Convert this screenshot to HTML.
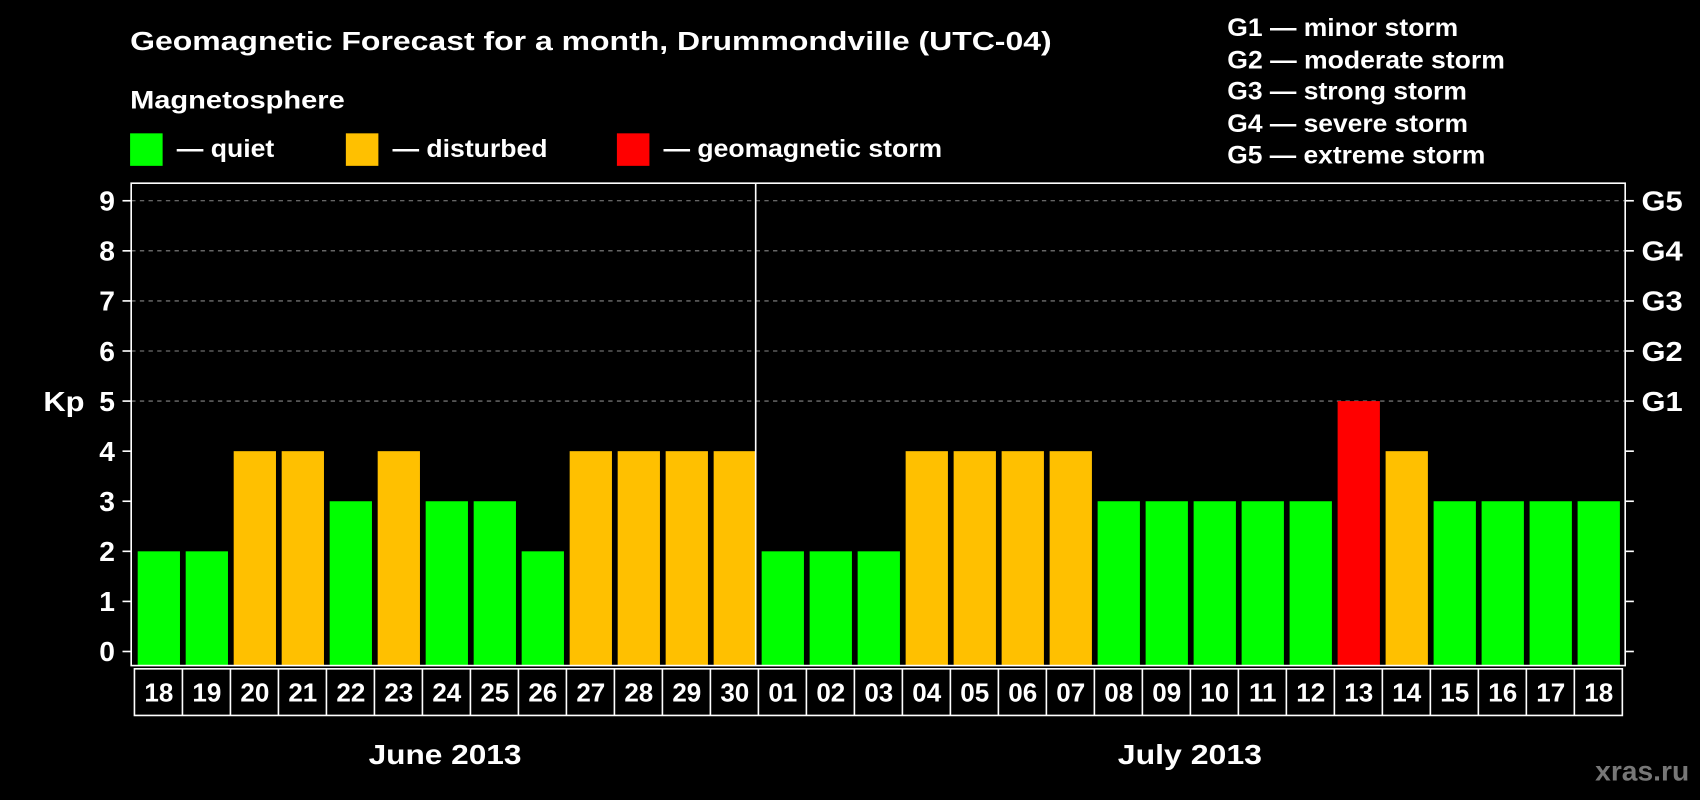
<!DOCTYPE html>
<html><head><meta charset="utf-8"><style>
html,body{margin:0;padding:0;background:#000;}
svg{display:block;}
text{font-family:"Liberation Sans",Arial,sans-serif;font-weight:bold;fill:#fff;}
</style></head><body>
<svg id="chart" width="1700" height="800" viewBox="0 0 1568 738" preserveAspectRatio="none" xmlns="http://www.w3.org/2000/svg">
<rect x="0" y="0" width="1568" height="738" fill="#000"/>
<text x="120" y="46" font-size="24" textLength="850" lengthAdjust="spacingAndGlyphs">Geomagnetic Forecast for a month, Drummondville (UTC-04)</text>
<text x="120" y="100" font-size="23" textLength="198" lengthAdjust="spacingAndGlyphs">Magnetosphere</text>
<rect x="120" y="123" width="30" height="30" fill="#00ff00"/>
<text x="163" y="145" font-size="23" textLength="90" lengthAdjust="spacingAndGlyphs">— quiet</text>
<rect x="319" y="123" width="30" height="30" fill="#ffc000"/>
<text x="362" y="145" font-size="23" textLength="143" lengthAdjust="spacingAndGlyphs">— disturbed</text>
<rect x="569" y="123" width="30" height="30" fill="#ff0000"/>
<text x="612" y="145" font-size="23" textLength="257" lengthAdjust="spacingAndGlyphs">— geomagnetic storm</text>
<g font-size="23">
<text x="1132" y="33" textLength="213" lengthAdjust="spacingAndGlyphs">G1 — minor storm</text>
<text x="1132" y="63" textLength="256" lengthAdjust="spacingAndGlyphs">G2 — moderate storm</text>
<text x="1132" y="92" textLength="221" lengthAdjust="spacingAndGlyphs">G3 — strong storm</text>
<text x="1132" y="122" textLength="222" lengthAdjust="spacingAndGlyphs">G4 — severe storm</text>
<text x="1132" y="151" textLength="238" lengthAdjust="spacingAndGlyphs">G5 — extreme storm</text>
</g>
<text x="40" y="379" font-size="26" textLength="38" lengthAdjust="spacingAndGlyphs">Kp</text>
<g id="plot"></g>
<text x="340" y="705" font-size="26" textLength="141" lengthAdjust="spacingAndGlyphs">June 2013</text>
<text x="1031" y="705" font-size="26" textLength="133" lengthAdjust="spacingAndGlyphs">July 2013</text>
<text x="1558" y="720" font-size="26" text-anchor="end" style="fill:#777">xras.ru</text>
</svg>
<script>
const days = ["18","19","20","21","22","23","24","25","26","27","28","29","30","01","02","03","04","05","06","07","08","09","10","11","12","13","14","15","16","17","18"];
const kp = [2,2,4,4,3,4,3,3,2,4,4,4,4,2,2,2,4,4,4,4,3,3,3,3,3,5,4,3,3,3,3];
const yTicks = [0,1,2,3,4,5,6,7,8,9];
const gLabels = ["G1","G2","G3","G4","G5"];
const gLevels = [5,6,7,8,9];

const NS = "http://www.w3.org/2000/svg";
const g = document.getElementById('plot');
const L = 121, R = 1499, T = 169, B = 614;
const y0 = 601, unit = 46.2;
const x0 = 123, pitch = 44.27;
const yS = v => y0 - v * unit;
const xS = i => x0 + i * pitch;
function mk(tag, attrs){const e=document.createElementNS(NS,tag);for(const k in attrs)e.setAttribute(k,attrs[k]);g.appendChild(e);return e;}
function color(v){return v>=5?"#ff0000":(v>=4?"#ffc000":"#00ff00");}

gLevels.forEach(v=>{
  const l = mk('line',{x1:L,x2:R,y1:yS(v),y2:yS(v),stroke:'#888','stroke-width':1,'stroke-dasharray':'4,4'});
  
  
});
kp.forEach((v,i)=>{
  const r = mk('rect',{x:xS(i)+4,y:yS(v),width:39,height:B-yS(v),fill:color(v)});
  
  
});
const fr = mk('rect',{x:L,y:T,width:R-L,height:B-T,fill:'none',stroke:'#fff','stroke-width':1.5});


const sep = mk('line',{x1:xS(13)-1.5,x2:xS(13)-1.5,y1:T,y2:B,stroke:'#fff','stroke-width':1.5});


yTicks.forEach(v=>{
  mk('line',{x1:L-8,x2:L,y1:yS(v),y2:yS(v),stroke:'#fff','stroke-width':1.5});
  mk('line',{x1:R,x2:R+8,y1:yS(v),y2:yS(v),stroke:'#fff','stroke-width':1.5});
  const t = mk('text',{x:106,y:yS(v)+9,'font-size':26,'text-anchor':'end'});
  t.textContent = v;
  
  
});
gLabels.forEach((s,i)=>{
  const t = mk('text',{x:1514,y:yS(gLevels[i])+9,'font-size':26,textLength:38,lengthAdjust:'spacingAndGlyphs'});
  t.textContent = s;
  
  
});
const bt = 617, bb = 660;
const box = mk('rect',{x:x0+1,y:bt,width:days.length*pitch,height:bb-bt,fill:'none',stroke:'#fff','stroke-width':1.5});


days.forEach((d,i)=>{
  if(i>0) mk('line',{x1:xS(i)+1,x2:xS(i)+1,y1:bt,y2:bb,stroke:'#fff','stroke-width':1.5});
  const t = mk('text',{x:xS(i)+23.5,y:647,'font-size':24,'text-anchor':'middle'});
  t.textContent = d;
  
  
});
</script>
</body></html>
